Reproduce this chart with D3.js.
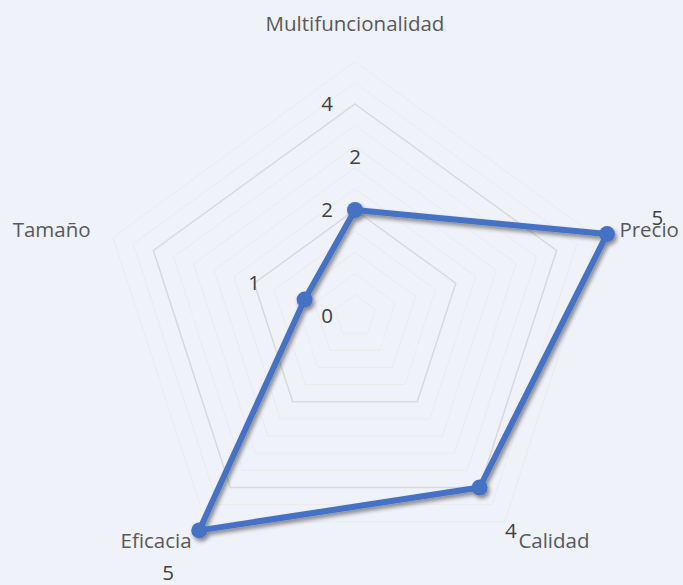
<!DOCTYPE html>
<html>
<head>
<meta charset="utf-8">
<script src="https://cdn.jsdelivr.net/npm/d3@7"></script>
<style>
  html, body { margin: 0; padding: 0; background: #eff2f9; }
  svg { display: block; }
  text { font-family: "Open Sans", "Noto Sans", sans-serif; }
</style>
</head>
<body>
<svg id="chart" width="683" height="585"></svg>
<script>
// Radar data: one series over five product attributes
const categories = ["Multifuncionalidad", "Precio", "Calidad", "Eficacia", "Tamaño"];
const values = [2, 5, 4, 5, 1];
const tickValues = [0, 2, 4];
const minorStep = 0.4;
const axisMax = 5;

const cx = 355, cy = 316;
const fontSize = 20.5;
const svg = d3.select("#chart");

const r = d3.scaleLinear().domain([0, axisMax]).range([0, 265]);
const angle = d3.scaleLinear().domain([0, categories.length]).range([0, 2 * Math.PI]);

const pt = (i, v) => {
  const a = angle(i);
  return [cx + Math.sin(a) * r(v), cy - Math.cos(a) * r(v)];
};

// Drop shadow for the series
const defs = svg.append("defs");
const f = defs.append("filter").attr("id", "shadow")
  .attr("x", "-20%").attr("y", "-20%").attr("width", "140%").attr("height", "140%");
f.append("feGaussianBlur").attr("in", "SourceAlpha").attr("stdDeviation", 2.2).attr("result", "b");
f.append("feOffset").attr("in", "b").attr("dx", 2).attr("dy", 3).attr("result", "o");
f.append("feComponentTransfer").attr("in", "o").attr("result", "s")
  .append("feFuncA").attr("type", "linear").attr("slope", 0.45);
const m = f.append("feMerge");
m.append("feMergeNode").attr("in", "s");
m.append("feMergeNode").attr("in", "SourceGraphic");

const ring = v => d3.range(categories.length).map(i => pt(i, v));
const ringPath = d3.line().curve(d3.curveLinearClosed);

// Minor grid rings
const minor = d3.range(minorStep, 4.8 + 1e-9, minorStep)
  .filter(v => !tickValues.some(t => Math.abs(t - v) < 1e-6));
svg.append("g").selectAll("path").data(minor).join("path")
  .attr("d", v => ringPath(ring(v)))
  .attr("fill", "none").attr("stroke", "#e6e6dc").attr("stroke-opacity", 0.5)
  .attr("stroke-width", 1);

// Major grid rings
svg.append("g").selectAll("path").data(tickValues.filter(v => v > 0)).join("path")
  .attr("d", v => ringPath(ring(v)))
  .attr("fill", "none").attr("stroke", "#d9d9d9").attr("stroke-width", 1.5);

// Tick labels along the first axis
svg.append("g").selectAll("text").data(tickValues).join("text")
  .attr("x", cx - 22).attr("y", v => cy - r(v))
  .attr("dy", "0.35em").attr("text-anchor", "end")
  .attr("font-size", fontSize).attr("fill", "#404040")
  .text(d => d);

// Category labels
const labelR = 278;
svg.append("g").selectAll("text").data(categories).join("text")
  .each(function (c, i) {
    const a = angle(i);
    const s = Math.sin(a);
    const t = d3.select(this);
    const x = cx + s * labelR, y = cy - Math.cos(a) * labelR;
    if (Math.abs(s) < 1e-6) {
      t.attr("x", x).attr("y", y - 7).attr("text-anchor", "middle");
    } else {
      t.attr("x", x).attr("y", y).attr("dy", "0.35em")
        .attr("text-anchor", s > 0 ? "start" : "end");
    }
  })
  .attr("font-size", fontSize).attr("fill", "#595959")
  .text(d => d);

// Series line and markers
const series = svg.append("g").attr("filter", "url(#shadow)");
series.append("path")
  .attr("d", ringPath(values.map((v, i) => pt(i, v))))
  .attr("fill", "none").attr("stroke", "#4472c4")
  .attr("stroke-width", 6).attr("stroke-linejoin", "round");
series.selectAll("circle").data(values).join("circle")
  .attr("cx", (v, i) => pt(i, v)[0]).attr("cy", (v, i) => pt(i, v)[1])
  .attr("r", 8).attr("fill", "#4472c4");

// Data labels, one unit further out along each axis
svg.append("g").selectAll("text").data(values).join("text")
  .attr("x", (v, i) => pt(i, v + 1)[0]).attr("y", (v, i) => pt(i, v + 1)[1])
  .attr("dy", "0.35em").attr("text-anchor", "middle")
  .attr("font-size", fontSize).attr("fill", "#404040")
  .text(d => d);
</script>
</body>
</html>
